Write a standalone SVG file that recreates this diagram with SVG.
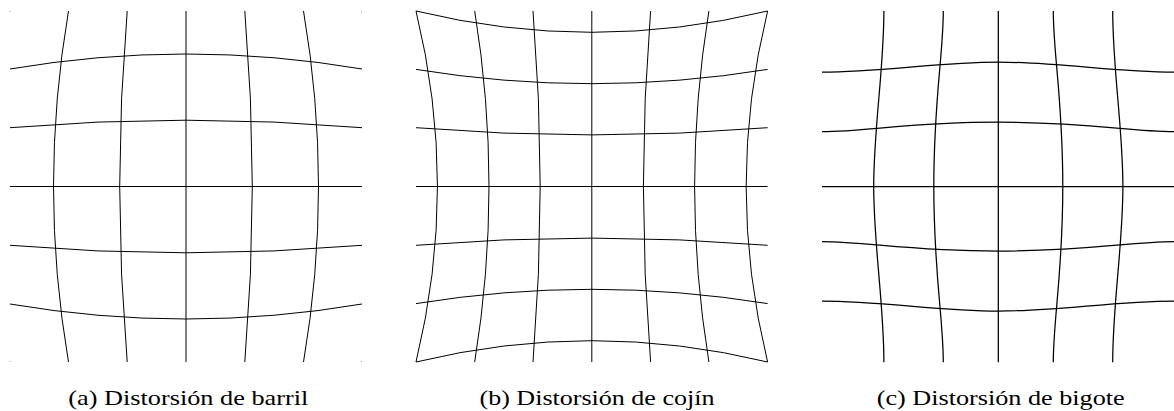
<svg xmlns="http://www.w3.org/2000/svg" width="1174" height="411" viewBox="0 0 1174 411">
<style>
.g{fill:none;stroke:#000;stroke-width:1}
.gc{fill:none;stroke:#000;stroke-width:1.25}
.cap{font-family:"Liberation Serif","Times New Roman",serif;font-size:22px;fill:#000}
.dot{fill:#999}
</style>
<rect width="1174" height="411" fill="#fff"/>
<g id="panel-a">
<path class="g" d="M68.5,11 Q38.5,186.5 68.5,362"/>
<path class="g" d="M127.2,11 Q112.2,186.5 127.2,362"/>
<path class="g" d="M186,11 V362"/>
<path class="g" d="M244.8,11 Q259.8,186.5 244.8,362"/>
<path class="g" d="M303.5,11 Q333.5,186.5 303.5,362"/>
<path class="g" d="M10,69 Q186,39 362,69"/>
<path class="g" d="M10,127.7 Q186,112.7 362,127.7"/>
<path class="g" d="M10,186.5 H362"/>
<path class="g" d="M10,245.3 Q186,260.3 362,245.3"/>
<path class="g" d="M10,304 Q186,334 362,304"/>
<rect class="dot" x="9.5" y="11" width="1" height="1"/>
<rect class="dot" x="361" y="11" width="1" height="1"/>
<rect class="dot" x="9.5" y="361" width="1" height="1"/>
<rect class="dot" x="361" y="361" width="1" height="1"/>
</g>
<g id="panel-b">
<path class="g" d="M416,11 Q458.9,186.5 416,362"/>
<path class="g" d="M474.7,11 Q503.3,186.5 474.7,362"/>
<path class="g" d="M533,11 Q547.4,186.5 533,362"/>
<path class="g" d="M591.8,11 V362"/>
<path class="g" d="M650.6,11 Q636.2,186.5 650.6,362"/>
<path class="g" d="M708.9,11 Q680.3,186.5 708.9,362"/>
<path class="g" d="M767.6,11 Q724.7,186.5 767.6,362"/>
<path class="g" d="M416,11 Q591.8,53.6 767.6,11"/>
<path class="g" d="M416,69.4 Q591.8,98 767.6,69.4"/>
<path class="g" d="M416,127.7 Q591.8,142.1 767.6,127.7"/>
<path class="g" d="M416,186.5 H767.6"/>
<path class="g" d="M416,245.3 Q591.8,230.9 767.6,245.3"/>
<path class="g" d="M416,303.6 Q591.8,275 767.6,303.6"/>
<path class="g" d="M416,362 Q591.8,319.4 767.6,362"/>
</g>
<g id="panel-c">
<path class="gc" d="M883.9,11 C883.9,69.5 873.7,128.1 873.7,186.6 C873.7,245.1 883.9,303.7 883.9,362.2"/>
<path class="gc" d="M943.3,11 C943.3,54.9 933.8,98.8 933.8,186.6 C933.8,274.4 943.3,318.3 943.3,362.2"/>
<path class="gc" d="M998.3,11 V362.2"/>
<path class="gc" d="M1053.3,11 C1053.3,54.9 1062.8,98.8 1062.8,186.6 C1062.8,274.4 1053.3,318.3 1053.3,362.2"/>
<path class="gc" d="M1112.7,11 C1112.7,69.5 1122.9,128.1 1122.9,186.6 C1122.9,245.1 1112.7,303.7 1112.7,362.2"/>
<path class="gc" d="M822,72.2 C880.8,72.2 939.5,62.1 998.3,62.1 C1057.1,62.1 1115.8,72.2 1174.6,72.2"/>
<path class="gc" d="M822,131.6 C866.1,131.6 910.1,122.1 998.3,122.1 C1086.5,122.1 1130.5,131.6 1174.6,131.6"/>
<path class="gc" d="M822,186.6 H1174.6"/>
<path class="gc" d="M822,241.6 C866.1,241.6 910.1,251.1 998.3,251.1 C1086.5,251.1 1130.5,241.6 1174.6,241.6"/>
<path class="gc" d="M822,301 C880.8,301 939.5,311.1 998.3,311.1 C1057.1,311.1 1115.8,301 1174.6,301"/>
</g>
<g id="captions">
<text class="cap" x="68.3" y="405" textLength="240" lengthAdjust="spacingAndGlyphs">(a) Distorsión de barril</text>
<text class="cap" x="479.5" y="405" textLength="235" lengthAdjust="spacingAndGlyphs">(b) Distorsión de cojín</text>
<text class="cap" x="876.7" y="405" textLength="248" lengthAdjust="spacingAndGlyphs">(c) Distorsión de bigote</text>
</g>
</svg>
